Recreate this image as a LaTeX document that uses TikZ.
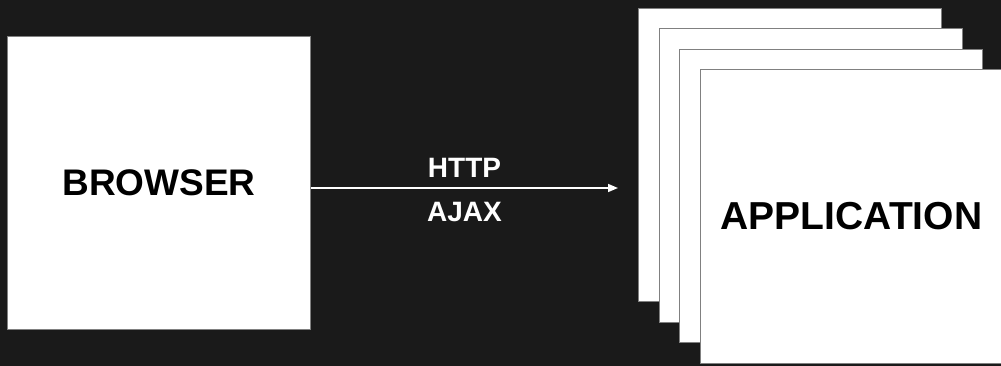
\documentclass[tikz,border=0pt]{standalone}
\usepackage{fontspec}
\setmainfont{Liberation Sans}
\usepackage{xcolor}
\usetikzlibrary{arrows.meta}
\definecolor{bgdark}{HTML}{1A1A1A}
\definecolor{edgegray}{HTML}{808080}
\tikzset{
	page/.style={draw=edgegray, fill=white, line width=1pt, inner sep=0pt, minimum width=303pt, minimum height=293pt, font=\fontsize{37}{40}\selectfont\bfseries},
	link/.style={white, line width=1.5pt, -{Triangle[length=10pt,width=8pt]}},
	tag/.style={white, inner sep=0pt, font=\fontsize{28}{30}\selectfont\bfseries}
}

\begin{document}
\begin{tikzpicture}[x=1pt,y=-1pt]
		\fill[bgdark] (0,0) rectangle (1001,366);
		\useasboundingbox (0,0) rectangle (1001,366);
		\node[page] (browser) at (159,183) {BROWSER};
		\foreach \i in {0,1,2} {
			\node[page] (app\i) at (790+20.5*\i,155+20.5*\i) {};
		}
		\node[page, font=\fontsize{39}{42}\selectfont\bfseries] (app3) at (851.5,216.5) {APPLICATION};
		\coordinate (tip) at (618,188);
		\draw[link] (browser.east |- tip) -- (tip)
			node[tag, midway, above=10pt] (http) {HTTP}
			node[tag, midway, below=13pt] (ajax) {AJAX};
	\end{tikzpicture}
\end{document}
